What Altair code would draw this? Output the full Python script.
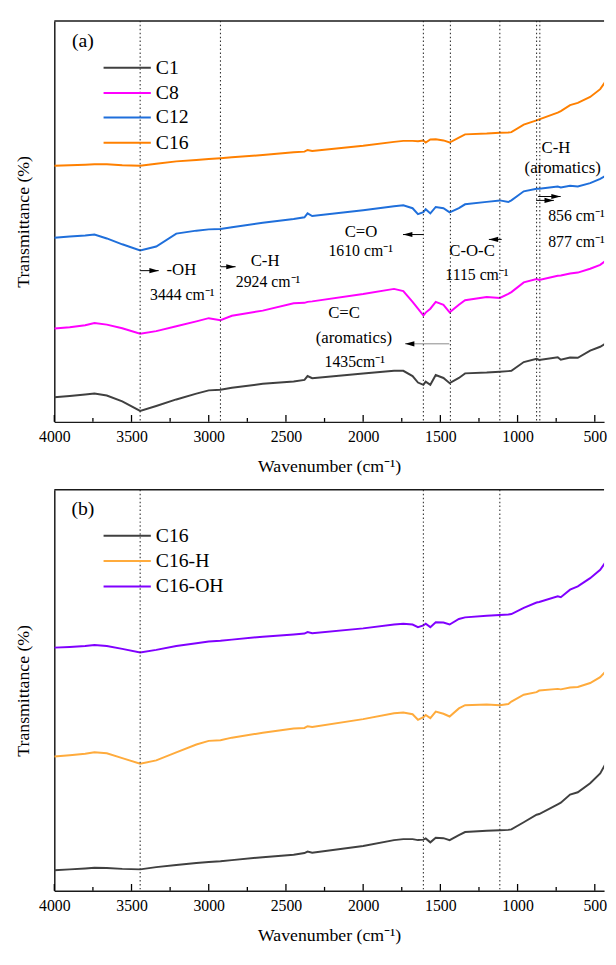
import altair as alt
import pandas as pd

FONT = "Liberation Serif"
W = 558
H = 407

WN = [4000, 3900, 3800, 3740, 3660, 3560, 3444, 3340, 3210, 3080,
      3000, 2924, 2850, 2650, 2450, 2380, 2360, 2330, 2000, 1800,
      1740, 1680, 1645, 1610, 1595, 1565, 1530, 1480, 1440, 1380,
      1340, 1200, 1115, 1060, 1040, 960, 877, 860, 740, 720,
      660, 610, 530, 465, 430, 400]

# panel (a) – offset transmittance (arbitrary units)
A_C1 = [25.3, 26.5, 28, 29, 27, 21, 11.3, 16.3, 23, 29,
        32.3, 33, 35, 39, 41.3, 43, 47, 44.7, 49.5, 52.3,
        52.3, 47, 40.3, 38, 41.3, 38, 48, 45, 39.7, 45,
        49.7, 50.5, 51.3, 52, 52.3, 61.3, 64.7, 63.5, 66.3, 63.7,
        66, 65.7, 73, 77, 80.3, 85]
A_C8 = [95.7, 97, 99, 101.3, 99.7, 96, 90.3, 93, 98, 103,
        106.3, 104.3, 108.7, 114, 121.5, 122, 123, 123.5, 131, 136.3,
        134, 123, 116, 109, 112, 116, 123, 120, 112.3, 120,
        124.7, 128, 127, 131.3, 133, 143, 146.3, 145.5, 149.7, 150,
        152, 153, 157, 161, 165, 169]
A_C12 = [188.7, 190, 191, 192, 188, 182, 175.7, 179.7, 193, 196,
         197.3, 197.7, 199.5, 204, 208, 209.7, 213.7, 211, 217, 221,
         222, 219, 213, 215, 218, 213.7, 220.3, 219, 214.7, 219,
         223, 225.5, 227, 225.3, 227, 236.3, 239, 239, 241.3, 240.3,
         242, 241.3, 244.7, 249, 252.3, 257]
A_C16 = [262.5, 263, 263.5, 264, 264, 263, 262.5, 264.5, 267, 268.5,
         269.5, 270.3, 271.2, 273.5, 276.3, 277, 278.7, 277.7, 283, 287,
         288, 288, 287.7, 288.3, 286.3, 289.5, 289.7, 288.5, 286.3, 291.3,
         294.7, 295.5, 296.3, 296.7, 297, 304.7, 309, 310, 317, 318.5,
         324.7, 327, 333, 341, 349, 361]

# panel (b)
B_C16 = [21, 22, 23, 23.7, 23.5, 22.5, 22, 24.3, 26.5, 28.5,
         29.5, 30.3, 31.5, 34.5, 37, 38.7, 40.3, 39, 46, 52,
         53, 53, 52, 52.5, 53.7, 49.7, 54.3, 54, 52, 57,
         60.3, 61.5, 62, 62.5, 63, 70.3, 78, 78.7, 88.7, 90.3,
         98.7, 101, 110.3, 120.3, 130.3, 142]
B_C16H = [137.7, 139, 140.5, 142, 141, 136, 130.3, 133.7, 142, 150,
          153.7, 154.3, 157, 162, 166.3, 167, 168.7, 168, 176, 182,
          182.7, 181, 175.3, 178, 180.3, 177, 183.7, 181.5, 178.7, 187,
          190.3, 191, 190.3, 191.5, 194, 201, 203.7, 205.3, 207, 206.5,
          208.5, 209, 213, 219, 225, 231]
B_C16OH = [249.3, 250, 251, 252, 251, 248, 244.3, 247, 251, 253.7,
           255.5, 256.3, 257.5, 260.5, 262.7, 263.7, 265.3, 264, 269, 273,
           273.7, 273, 270.3, 272, 273.7, 270.3, 275.3, 275, 273, 278.7,
           280.3, 282, 282.7, 283.2, 283.7, 290, 295.5, 296, 302, 301,
           308.7, 312, 320.5, 329, 337, 345]

A_NAMES = ["C1", "C8", "C12", "C16"]
A_COLORS = ["#404040", "#ff00ff", "#1f6fdb", "#ff8000"]
B_NAMES = ["C16", "C16-H", "C16-OH"]
B_COLORS = ["#404040", "#ffab3c", "#8000ff"]

A_VLINES = [3444, 2924, 1610, 1435, 1115, 877, 856]
B_VLINES = [3444, 1610, 1115]

TICKS_MAJOR = [4000, 3500, 3000, 2500, 2000, 1500, 1000, 500]
TICKS_MINOR = [3750, 3250, 2750, 2250, 1750, 1250, 750]

# legend placement (data units)
LEG_X1, LEG_X2, LEG_TX = 3681, 3375, 3343
A_LEG_Y = [363, 337, 312, 286]
B_LEG_Y = [364, 338, 312]

# annotations of panel (a)
A_LAB_TEXT = ["-OH", "C-H", "C=O", "C-O-C", "C=C", "(aromatics)", "C-H", "(aromatics)"]
A_LAB_X = [3177, 2635, 2014, 1295, 2124, 2060, 752, 708]
A_LAB_Y = [156, 165, 195, 175, 112, 86, 281, 260]
A_NUM_TEXT = ["3444 cm\u207b\u00b9", "2924 cm\u207b\u00b9", "1610 cm\u207b\u00b9",
              "1115 cm\u207b\u00b9", "1435cm\u207b\u00b9", "856 cm\u207b\u00b9", "877 cm\u207b\u00b9"]
A_NUM_X = [3171, 2616, 2016, 1263, 2054, 619, 619]
A_NUM_Y = [130, 143, 175, 150, 61, 211, 184]
ARROW_TAIL = [3444, 2922, 1608, 1103, 1442, 867, 880]
ARROW_HEAD = [3324, 2826, 1742, 1186, 1729, 721, 765]
ARROW_Y = [155, 159, 192, 187, 80, 231, 227]
ARROW_COLOR = ["black", "black", "black", "black", "#888888", "black", "black"]

PATH_R = "M0,0L-2,-0.55L-2,0.55Z"
PATH_L = "M0,0L2,-0.55L2,0.55Z"

x_scale = alt.Scale(domain=[4000, 440], nice=False, zero=False)
y_scale = alt.Scale(domain=[0, 411], nice=False, zero=False)

X_AXIS = alt.Axis(orient="bottom", values=TICKS_MAJOR, title="Wavenumber (cm\u207b\u00b9)", format="d",
                  tickSize=0, labelPadding=7, titlePadding=13, grid=False,
                  domain=True, domainColor="#1a1a1a", domainWidth=1.5,
                  labelFlush=False)
Y_AXIS = alt.Axis(orient="left", title="Transmittance (%)", labels=False, ticks=False,
                  grid=False, domain=True, domainColor="#1a1a1a", domainWidth=1.5,
                  titlePadding=22)


def xq(field):
    return alt.X(field, type="quantitative", scale=x_scale, axis=X_AXIS)


def yq(field):
    return alt.Y(field, type="quantitative", scale=y_scale, axis=Y_AXIS)


def panel(names, vals, colors, tag, tag_y, leg_y, vlines, labels=None, nums=None, arrows=None):
    rows = []
    for n, v in zip(names, vals):
        for w, t in zip(WN, v):
            rows.append({"wn": w, "t": t, "s": n})
    df = pd.DataFrame(rows)
    color = alt.Color("s:N", scale=alt.Scale(domain=names, range=colors), legend=None)

    lines = alt.Chart(df).mark_line(strokeWidth=2, clip=True).encode(
        x=xq("wn"), y=yq("t"), color=color, detail="s:N")

    rules = alt.Chart(pd.DataFrame({"wn": vlines})).mark_rule(
        color="#333333", strokeDash=[1.5, 2.5], strokeWidth=1.1
    ).encode(x=xq("wn"))

    # top frame line at the top of the y range
    top = alt.Chart(pd.DataFrame({"y": [411]})).mark_rule(color="#1a1a1a", strokeWidth=1.5).encode(
        y=yq("y"))

    # inward tick marks along the bottom axis (major 7, minor 4 units tall)
    tk = pd.DataFrame({"wn": TICKS_MAJOR + TICKS_MINOR,
                       "y0": [0] * (len(TICKS_MAJOR) + len(TICKS_MINOR)),
                       "y1": [7] * len(TICKS_MAJOR) + [4] * len(TICKS_MINOR)})
    ticks = alt.Chart(tk).mark_rule(color="black", strokeWidth=1.3).encode(
        x=xq("wn"), y=yq("y0"), y2="y1:Q")

    leg = pd.DataFrame({"s": names, "y": leg_y, "x1": [LEG_X1] * len(names),
                        "x2": [LEG_X2] * len(names), "tx": [LEG_TX] * len(names)})
    leg_rules = alt.Chart(leg).mark_rule(strokeWidth=2).encode(
        x=xq("x1"), x2="x2:Q", y=yq("y"), color=color)
    leg_text = alt.Chart(leg).mark_text(align="left", baseline="middle", fontSize=20, color="black").encode(
        x=xq("tx"), y=yq("y"), text="s:N")

    tag_df = pd.DataFrame({"x": [3815], "y": [tag_y], "txt": [tag]})
    tag_text = alt.Chart(tag_df).mark_text(align="center", baseline="middle", fontSize=20, color="black").encode(
        x=xq("x"), y=yq("y"), text="txt:N")

    layers = [lines, rules, top, ticks, leg_rules, leg_text, tag_text]

    if labels is not None:
        ldf = pd.DataFrame({"x": labels[1], "y": labels[2], "txt": labels[0]})
        layers.append(alt.Chart(ldf).mark_text(align="center", baseline="middle", fontSize=17, color="black").encode(
            x=xq("x"), y=yq("y"), text="txt:N"))
    if nums is not None:
        ndf = pd.DataFrame({"x": nums[1], "y": nums[2], "txt": nums[0]})
        layers.append(alt.Chart(ndf).mark_text(align="center", baseline="middle", fontSize=16, color="black").encode(
            x=xq("x"), y=yq("y"), text="txt:N"))
    if arrows is not None:
        adf = pd.DataFrame({"xt": arrows[0], "xh": arrows[1], "y": arrows[2], "c": arrows[3]})
        adf["dir"] = ["r" if h < t else "l" for t, h in zip(adf["xt"], adf["xh"])]
        layers.append(alt.Chart(adf).mark_rule(strokeWidth=1).encode(
            x=xq("xt"), x2="xh:Q", y=yq("y"), color=alt.Color("c:N", scale=None)))
        layers.append(alt.Chart(adf).mark_point(filled=True, size=90, opacity=1, color="black", strokeWidth=0).encode(
            x=xq("xh"), y=yq("y"),
            shape=alt.Shape("dir:N", scale=alt.Scale(domain=["r", "l"], range=[PATH_R, PATH_L]), legend=None)))

    return alt.layer(*layers).properties(width=W, height=H)


pa = panel(A_NAMES, [A_C1, A_C8, A_C12, A_C16], A_COLORS, "(a)", 390, A_LEG_Y, A_VLINES,
           labels=(A_LAB_TEXT, A_LAB_X, A_LAB_Y),
           nums=(A_NUM_TEXT, A_NUM_X, A_NUM_Y),
           arrows=(ARROW_TAIL, ARROW_HEAD, ARROW_Y, ARROW_COLOR))
pb = panel(B_NAMES, [B_C16, B_C16H, B_C16OH], B_COLORS, "(b)", 391, B_LEG_Y, B_VLINES)

chart = alt.vconcat(pa, pb, spacing=12).resolve_scale(color="independent").properties(
    padding={"left": 6, "right": 0, "top": 4, "bottom": 0}
).configure_view(
    stroke="transparent"
).configure_axis(
    labelFont=FONT, titleFont=FONT, labelFontSize=16, titleFontSize=18,
    titleFontWeight="normal", labelColor="black", titleColor="black"
).configure_text(font=FONT)

chart.save("out.html", embed_options={"renderer": "svg", "actions": False})
